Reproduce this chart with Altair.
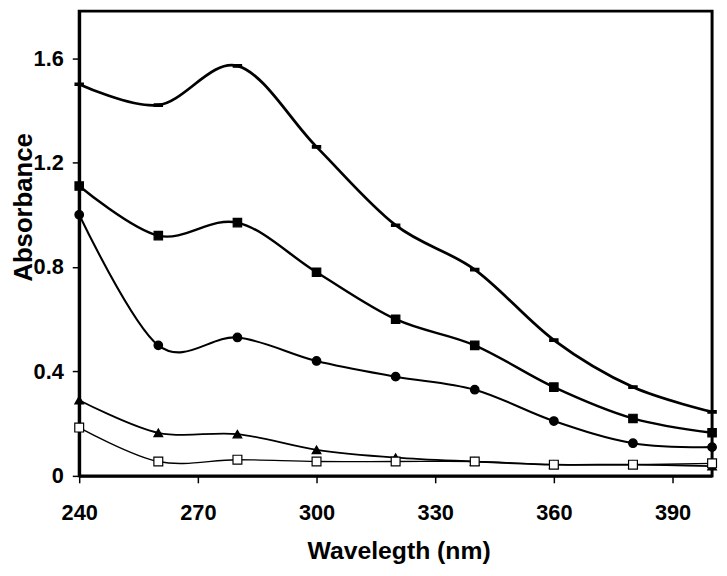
import altair as alt
import pandas as pd

wavelength = [240, 260, 280, 300, 320, 340, 360, 380, 400]
series_names = ["s1", "s2", "s3", "s4", "s5"]
s1 = [1.50, 1.42, 1.57, 1.26, 0.96, 0.79, 0.52, 0.34, 0.245]
s2 = [1.11, 0.92, 0.97, 0.78, 0.60, 0.50, 0.34, 0.22, 0.165]
s3 = [1.00, 0.50, 0.53, 0.44, 0.38, 0.33, 0.21, 0.125, 0.11]
s4 = [0.29, 0.165, 0.16, 0.10, 0.07, 0.055, 0.043, 0.043, 0.037]
s5 = [0.185, 0.055, 0.062, 0.055, 0.055, 0.055, 0.043, 0.043, 0.048]

x_ticks = [240, 270, 300, 330, 360, 390]
y_ticks = [0, 0.4, 0.8, 1.2, 1.6]

rows = []
for name, vals in zip(series_names, [s1, s2, s3, s4, s5]):
    for w, v in zip(wavelength, vals):
        rows.append({"series": name, "wavelength": w, "absorbance": v})
df = pd.DataFrame(rows)

FONT = "Liberation Sans"

x_enc = alt.X(
    "wavelength:Q",
    scale=alt.Scale(domain=[240, 400], nice=False, zero=False),
    axis=alt.Axis(
        values=x_ticks, title="Wavelegth (nm)", grid=False, labelFlush=False,
        labelFont=FONT, labelFontSize=22, labelFontWeight="bold", labelColor="black",
        labelPadding=20, tickSize=7, tickWidth=1.5, tickColor="black",
        domainColor="black", domainWidth=3,
        titleFont=FONT, titleFontSize=25, titleFontWeight="bold", titleColor="black",
        titleX=323, titleY=84, titleBaseline="alphabetic", titleAlign="center",
    ),
)
y_enc = alt.Y(
    "absorbance:Q",
    scale=alt.Scale(domain=[0, 1.78], nice=False, zero=True),
    axis=alt.Axis(
        values=y_ticks, format=".1~f", title="Absorbance", grid=False, labelFlush=False,
        labelFont=FONT, labelFontSize=22, labelFontWeight="bold", labelColor="black",
        labelPadding=9, tickSize=7, tickWidth=1.5, tickColor="black",
        domainColor="black", domainWidth=3,
        titleFont=FONT, titleFontSize=26, titleFontWeight="bold", titleColor="black",
        titleAngle=-90, titleX=-69, titleY=198, titleBaseline="top", titleAlign="center",
    ),
)

lines = alt.Chart(df).mark_line(interpolate="cardinal", tension=0, color="black").encode(
    x=x_enc,
    y=y_enc,
    detail="series:N",
    strokeWidth=alt.StrokeWidth(
        "series:N",
        scale=alt.Scale(domain=series_names, range=[2.8, 1.4, 1.4, 1.4, 1.4]),
        legend=None,
    ),
)

dash_path = "M-1,-0.3L1,-0.3L1,0.3L-1,0.3Z"
points = alt.Chart(df).mark_point(filled=True, opacity=1, stroke="black", strokeWidth=1.2).encode(
    x="wavelength:Q",
    y="absorbance:Q",
    shape=alt.Shape(
        "series:N",
        scale=alt.Scale(domain=series_names,
                        range=[dash_path, "square", "circle", "triangle-up", "square"]),
        legend=None,
    ),
    fill=alt.Fill(
        "series:N",
        scale=alt.Scale(domain=series_names,
                        range=["black", "black", "black", "black", "white"]),
        legend=None,
    ),
    size=alt.Size(
        "series:N",
        scale=alt.Scale(domain=series_names, range=[70, 80, 75, 95, 60]),
        legend=None,
    ),
)

chart = (lines + points).properties(
    width=640, height=470, background="white",
    padding={"left": 3, "top": 0, "right": 0, "bottom": 0},
).configure_view(stroke="black", strokeWidth=3)

chart.save("out.html", embed_options={"renderer": "svg", "actions": False})
